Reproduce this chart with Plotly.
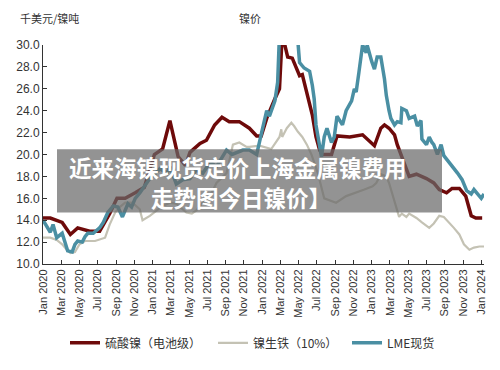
import plotly.graph_objects as go

# x values: months since Jan 2020
tick_labels = ["Jan 2020","Mar 2020","May 2020","Jul 2020","Sep 2020","Nov 2020",
               "Jan 2021","Mar 2021","May 2021","Jul 2021","Sep 2021","Nov 2021",
               "Jan 2022","Mar 2022","May 2022","Jul 2022","Sep 2022","Nov 2022",
               "Jan 2023","Mar 2023","May 2023","Jul 2023","Sep 2023","Nov 2023","Jan 2024"]
tick_months = list(range(0, 49, 2))

sulfate_m = [0.0,0.8,2.1,3.0,3.8,5.1,6.2,7.3,8.1,9.0,10.1,11.1,12.2,13.1,13.9,14.8,15.6,16.1,17.2,17.9,
             18.8,19.6,20.4,21.5,22.6,23.4,23.9,24.5,25.4,25.9,26.2,26.5,26.8,27.3,28.1,28.4,29.0,29.5,29.9,30.3,
             30.6,31.6,32.2,33.6,35.0,36.3,37.0,37.4,37.9,38.5,38.8,39.6,40.1,40.9,42.0,42.8,43.4,44.2,44.8,45.6,
             46.3,46.9,47.4,48.1]
sulfate_v = [14.2,14.2,13.8,12.7,13.3,13.0,13.0,14.6,16.0,16.0,16.5,17.0,20.0,20.5,23.1,19.8,19.0,20.2,21.0,21.3,
             22.7,23.4,23.0,23.0,22.4,21.7,21.7,23.3,25.1,26.0,31.0,29.8,28.9,28.8,27.2,27.3,25.4,23.6,21.6,20.4,
             20.0,20.0,21.7,21.6,21.8,20.8,22.4,22.7,22.4,21.8,20.9,19.2,18.0,18.2,17.8,17.4,16.8,16.5,16.9,16.9,
             16.2,14.4,14.2,14.2]

npi_m = [0.0,0.8,1.5,2.1,2.6,3.0,3.5,4.0,4.6,5.7,6.8,7.3,7.9,8.4,9.0,9.8,10.6,10.9,11.7,12.5,
         13.1,13.9,14.6,15.7,16.3,16.8,17.5,18.3,19.0,20.1,20.8,21.5,22.3,22.6,23.7,25.0,25.6,25.9,26.1,26.2,
         26.7,27.0,27.2,27.5,27.9,28.4,28.9,29.4,29.7,30.1,30.8,32.1,33.2,34.3,35.2,36.1,36.5,37.0,37.6,37.9,
         38.3,38.7,39.0,39.3,39.8,40.1,40.9,41.5,42.3,42.8,43.4,43.9,44.5,45.0,45.6,46.1,46.7,47.2,47.8,48.3]
npi_v = [12.4,12.4,12.2,11.8,11.3,11.0,11.1,11.8,12.1,12.1,12.4,13.6,14.7,15.2,15.6,15.6,15.0,14.0,14.4,14.9,
         15.3,15.6,15.5,14.7,14.6,14.9,15.6,16.2,17.4,18.3,20.9,21.1,20.7,20.7,20.8,20.5,21.3,21.6,22.3,21.6,
         22.4,22.7,22.9,22.6,22.1,21.6,20.9,20.0,19.3,18.3,16.0,15.6,16.2,16.5,16.8,17.1,17.4,18.2,18.0,17.4,
         16.2,15.2,14.3,14.6,14.3,14.6,14.2,13.8,13.3,13.7,14.4,14.3,13.8,13.3,12.7,11.8,11.3,11.5,11.6,11.6]

lme_m = [0.0,0.8,1.1,1.5,2.1,2.4,2.7,3.2,3.5,3.8,4.3,4.6,4.9,5.5,6.2,6.6,7.1,7.7,8.2,8.7,
         9.3,9.7,10.1,10.6,11.1,11.7,12.2,12.8,13.6,13.9,14.6,15.3,16.1,16.8,17.5,18.3,19.0,20.1,20.7,21.2,
         21.9,22.6,23.4,24.0,24.5,24.8,25.4,25.7,25.9,26.5,27.4,27.9,28.1,28.6,29.2,29.5,29.7,29.9,30.3,30.5,
         30.8,31.1,31.6,31.9,32.2,32.8,33.2,33.8,34.1,34.3,34.6,34.9,35.0,35.4,35.5,36.0,36.3,36.6,37.0,37.4,
         37.6,37.9,38.1,38.5,38.8,39.2,39.3,39.8,40.1,40.7,41.0,41.4,41.5,42.0,42.3,42.6,42.8,43.2,43.6,43.9,
         44.3,44.8,45.4,45.9,46.4,46.9,47.2,47.5,48.0,48.3]
lme_v = [14.0,12.9,13.6,12.4,12.8,12.0,11.2,11.1,11.8,12.1,12.0,12.5,12.8,12.8,13.3,13.8,14.7,15.3,15.2,14.3,
         15.5,15.2,16.0,16.5,17.1,17.8,18.2,18.7,18.3,18.9,17.3,17.7,17.8,18.6,18.3,19.3,18.9,20.4,20.0,20.2,
         20.4,20.4,20.0,22.2,24.0,23.5,24.9,26.6,31.0,34.0,32.0,30.5,28.4,27.9,27.6,26.3,25.1,22.7,20.4,19.8,
         21.6,22.4,21.1,21.6,23.5,22.7,24.0,24.9,26.0,25.7,27.5,29.3,30.0,29.3,30.0,28.5,27.8,28.9,28.9,26.9,
         25.4,24.0,23.3,22.7,23.0,22.9,24.2,24.0,23.3,23.5,22.6,23.1,21.4,20.9,21.6,21.1,20.9,20.0,20.9,19.9,
         19.5,18.9,18.3,17.7,16.7,16.4,16.8,16.5,16.0,16.4]

PL, PR, PT, PB = 43, 16, 45, 100
W, H = 500, 370
pw, ph = W - PL - PR, H - PT - PB

def px(x):
    return (x - PL) / pw

def py(y):
    return (H - PB - y) / ph

fig = go.Figure()
fig.add_trace(go.Scatter(x=sulfate_m, y=sulfate_v, mode="lines", name="硫酸镍（电池级）",
                         line=dict(color="#6e0a0a", width=3.5), legend="legend"))
fig.add_trace(go.Scatter(x=npi_m, y=npi_v, mode="lines", name="镍生铁（10%）",
                         line=dict(color="#c4c2b4", width=2.2), legend="legend2"))
fig.add_trace(go.Scatter(x=lme_m, y=lme_v, mode="lines", name="LME现货",
                         line=dict(color="#4a8fa3", width=3.5), legend="legend3"))

def leg(xpix):
    return dict(orientation="h", x=px(xpix), xanchor="left", y=py(351), yanchor="middle",
                font=dict(family="Noto Sans CJK SC", size=12, color="#333333"),
                itemwidth=30, bgcolor="rgba(0,0,0,0)")

fig.update_layout(
    width=W, height=H,
    margin=dict(l=PL, r=PR, t=PT, b=PB),
    paper_bgcolor="white", plot_bgcolor="white",
    font=dict(family="Liberation Sans, Noto Sans CJK SC", size=11, color="#333333"),
    showlegend=True,
    legend=leg(65), legend2=leg(213), legend3=leg(347),
    xaxis=dict(range=[0, 48.3], tickmode="array", tickvals=tick_months, ticktext=tick_labels,
               tickangle=-90, ticks="inside", ticklen=4, tickcolor="#333333",
               showline=True, linecolor="#333333", linewidth=1, showgrid=False, zeroline=False,
               tickfont=dict(family="Liberation Sans", size=11, color="#333333")),
    yaxis=dict(range=[10, 30], dtick=2, tickformat=".1f", ticks="inside", ticklen=4,
               tickcolor="#333333", showline=True, linecolor="#333333", linewidth=1,
               showgrid=False, zeroline=False,
               tickfont=dict(family="Liberation Sans", size=12, color="#333333")),
)

fig.add_annotation(text="千美元/镍吨", xref="paper", yref="paper", x=px(18), y=py(17),
                   xanchor="left", yanchor="middle", showarrow=False,
                   font=dict(family="Noto Sans CJK SC", size=11, color="#333333"))
fig.add_annotation(text="镍价", xref="paper", yref="paper", x=px(250), y=py(17),
                   xanchor="center", yanchor="middle", showarrow=False,
                   font=dict(family="Noto Sans CJK SC", size=11, color="#333333"))

fig.add_shape(type="rect", xref="paper", yref="paper", x0=px(57), x1=px(442), y0=py(217), y1=py(152),
              fillcolor="rgba(105,105,105,0.72)", line=dict(width=0), layer="above")
fig.add_annotation(text="<b>近来海镍现货定价上海金属镍费用</b>", xref="paper", yref="paper",
                   x=px(238), y=py(170), xanchor="center", yanchor="middle", showarrow=False,
                   font=dict(family="Noto Sans CJK SC", size=22.5, color="white"))
fig.add_annotation(text="<b>走势图今日镍价】</b>", xref="paper", yref="paper",
                   x=px(241), y=py(201), xanchor="center", yanchor="middle", showarrow=False,
                   font=dict(family="Noto Sans CJK SC", size=22.5, color="white"))

fig.write_html("out.html")
